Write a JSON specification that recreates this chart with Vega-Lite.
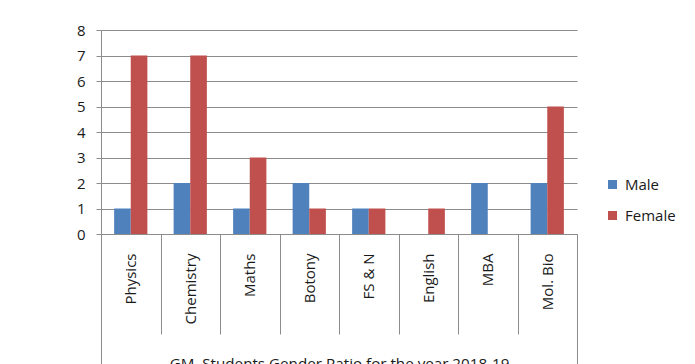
{
  "$schema": "https://vega.github.io/schema/vega-lite/v6.json",
  "width": 476,
  "height": 204,
  "autosize": {"type": "none"},
  "padding": {"left": 101, "top": 30, "right": 118, "bottom": 130},
  "background": "white",
  "config": {
    "view": {"stroke": null},
    "font": "Open Sans",
    "axis": {"labelFont": "Open Sans", "titleFont": "Open Sans"},
    "legend": {"labelFont": "Open Sans"}
  },
  "data": {
    "values": [
      {"subject": "Physics", "gender": "Male", "count": 1},
      {"subject": "Physics", "gender": "Female", "count": 7},
      {"subject": "Chemistry", "gender": "Male", "count": 2},
      {"subject": "Chemistry", "gender": "Female", "count": 7},
      {"subject": "Maths", "gender": "Male", "count": 1},
      {"subject": "Maths", "gender": "Female", "count": 3},
      {"subject": "Botony", "gender": "Male", "count": 2},
      {"subject": "Botony", "gender": "Female", "count": 1},
      {"subject": "FS & N", "gender": "Male", "count": 1},
      {"subject": "FS & N", "gender": "Female", "count": 1},
      {"subject": "English", "gender": "Male", "count": 0},
      {"subject": "English", "gender": "Female", "count": 1},
      {"subject": "MBA", "gender": "Male", "count": 2},
      {"subject": "MBA", "gender": "Female", "count": 0},
      {"subject": "Mol. Bio", "gender": "Male", "count": 2},
      {"subject": "Mol. Bio", "gender": "Female", "count": 5}
    ]
  },
  "mark": {"type": "bar"},
  "encoding": {
    "x": {
      "field": "subject",
      "type": "nominal",
      "sort": null,
      "scale": {"paddingInner": 0, "paddingOuter": 0},
      "axis": {
        "title": "GM. Students Gender Ratio for the year 2018-19",
        "titleFontSize": 15.2,
        "titleFontWeight": "normal",
        "titleColor": "#1a1a1a",
        "titleX": 238,
        "titleY": 134,
        "titleBaseline": "alphabetic",
        "titleAlign": "center",
        "titleAnchor": "middle",
        "labelAngle": -90,
        "labelFontSize": 15,
        "labelColor": "#1a1a1a",
        "labelPadding": {"condition": {"test": "datum.index === 1", "value": -121}, "value": -81},
        "tickBand": "extent",
        "tickSize": {"condition": {"test": "datum.index === 1 || datum.extra", "value": 140}, "value": 100},
        "tickColor": "#8c8c8c",
        "domainColor": "#8c8c8c",
        "grid": false
      }
    },
    "xOffset": {
      "field": "gender",
      "sort": ["Male", "Female"],
      "scale": {"paddingOuter": 0.79, "paddingInner": 0}
    },
    "y": {
      "field": "count",
      "type": "quantitative",
      "scale": {"domain": [0, 8]},
      "axis": {
        "title": null,
        "values": [0, 1, 2, 3, 4, 5, 6, 7, 8],
        "grid": true,
        "gridColor": "#8c8c8c",
        "domainColor": "#8c8c8c",
        "tickColor": "#8c8c8c",
        "tickSize": 5,
        "labelPadding": 11,
        "labelFontSize": 15,
        "labelColor": "#1a1a1a"
      }
    },
    "color": {
      "field": "gender",
      "type": "nominal",
      "scale": {"domain": ["Male", "Female"], "range": ["#4F81BD", "#C0504D"]},
      "legend": {
        "title": null,
        "orient": "none",
        "legendX": 504,
        "legendY": 147,
        "padding": 0,
        "symbolType": "square",
        "symbolSize": 81,
        "symbolStrokeWidth": 0,
        "labelFontSize": 15,
        "labelColor": "#1a1a1a",
        "labelOffset": 5,
        "rowPadding": 15
      }
    }
  }
}
